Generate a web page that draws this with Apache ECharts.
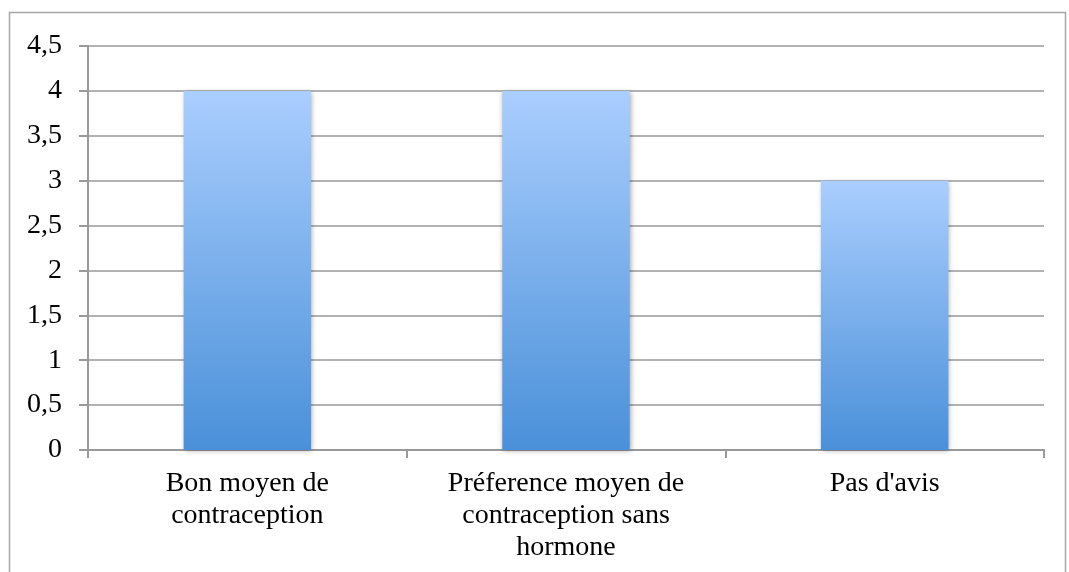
<!DOCTYPE html>
<html>
<head>
<meta charset="utf-8">
<script src="https://cdn.jsdelivr.net/npm/echarts@6/dist/echarts.min.js"></script>
<style>
  html, body { margin: 0; padding: 0; background: #fff; }
  #chart { width: 1069px; height: 572px; }
</style>
</head>
<body>
<div id="chart"></div>
<script>
// categories as shown on the x axis (line breaks as in the picture)
var categories = ['Bon moyen de\ncontraception', 'Préference moyen de\ncontraception sans\nhormone', "Pas d'avis"]
var values = [4, 4, 3]
var yTicks = [0, 0.5, 1, 1.5, 2, 2.5, 3, 3.5, 4, 4.5]

var myChart = echarts.init(document.getElementById('chart'))
var option = {
  animation: false,
  grid: { left: 88, right: 25, top: 46, bottom: 122, containLabel: false },
  graphic: [{
    type: 'rect',
    shape: { x: 9.5, y: 12.5, width: 1056, height: 570 },
    style: { fill: 'none', stroke: '#a6a6a6', lineWidth: 1.5 },
    silent: true
  }],
  xAxis: {
    type: 'category',
    data: categories,
    axisLine: { lineStyle: { color: '#999', width: 2 } },
    axisTick: { show: true, length: 8, lineStyle: { color: '#999', width: 2 } },
    axisLabel: {
      color: '#000',
      fontFamily: 'Liberation Serif',
      fontSize: 28,
      lineHeight: 32,
      margin: 18,
      interval: 0
    }
  },
  yAxis: {
    type: 'value',
    min: yTicks[0],
    max: yTicks[yTicks.length - 1],
    interval: 0.5,
    axisLine: { show: true, lineStyle: { color: '#999', width: 2 } },
    axisTick: { show: true, length: 9, lineStyle: { color: '#999', width: 2 } },
    splitLine: { show: true, lineStyle: { color: '#999', width: 1.5 } },
    axisLabel: {
      color: '#000',
      fontFamily: 'Liberation Serif',
      fontSize: 28,
      margin: 26,
      formatter: function (v) { return String(v).replace('.', ',') }
    }
  },
  series: [{
    type: 'bar',
    data: values,
    barWidth: '40%',
    itemStyle: {
      color: new echarts.graphic.LinearGradient(0, 0, 0, 1, [
        { offset: 0, color: '#aacefe' },
        { offset: 1, color: '#4a90d9' }
      ]),
      shadowBlur: 5,
      shadowColor: 'rgba(0,0,0,0.35)',
      shadowOffsetX: 1,
      shadowOffsetY: 1
    }
  }]
}
myChart.setOption(option)
window.addEventListener('resize', function () { myChart.resize() })
</script>
</body>
</html>
